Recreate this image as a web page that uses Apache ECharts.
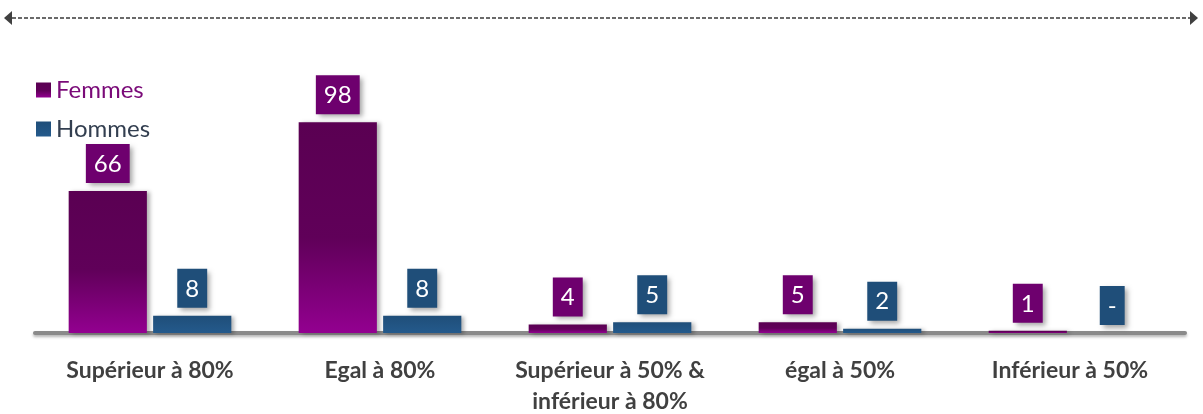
<!DOCTYPE html>
<html>
<head>
<meta charset="utf-8">
<script src="https://cdn.jsdelivr.net/npm/echarts@6/dist/echarts.min.js"></script>
<style>
  html, body { margin: 0; padding: 0; background: #ffffff; }
  #main { width: 1203px; height: 414px; }
</style>
</head>
<body>
<div id="main"></div>
<script>
// categories and values
const categories = ['Supérieur à 80%', 'Egal à 80%', 'Supérieur à 50% &\ninférieur à 80%', 'égal à 50%', 'Inférieur à 50%'];
const femmes = [66, 98, 4, 5, 1];
const hommes = [8, 8, 5, 2, 0];

const purple = '#6e006e';
const blue = '#1f4e79';

function boxLabel(bg) {
  return {
    show: true,
    position: 'top',
    distance: 8,
    formatter: p => (p.value === 0 ? '-' : p.value),
    fontFamily: 'Lato',
    fontSize: 24,
    color: '#ffffff',
    backgroundColor: bg,
    padding: [8, 8, 7, 8],
    shadowColor: 'rgba(0,0,0,0.35)',
    shadowBlur: 5,
    shadowOffsetX: 3,
    shadowOffsetY: 3
  };
}

var myChart = echarts.init(document.getElementById('main'));

var option = {
  animation: false,
  grid: { left: 35, right: 18, top: 118, bottom: 81, outerBoundsMode: 'none' },
  legend: {
    orient: 'vertical',
    left: 31,
    top: 73,
    icon: 'rect',
    itemWidth: 15,
    itemHeight: 15,
    itemGap: 15,
    textStyle: { fontFamily: 'Lato', fontSize: 24 },
    data: [
      { name: 'Femmes', textStyle: { color: '#7a0a78' } },
      { name: 'Hommes', textStyle: { color: '#333f50' } }
    ]
  },
  xAxis: {
    type: 'category',
    data: categories,
    axisTick: { show: false },
    axisLine: {
      lineStyle: {
        color: '#8a8a8a',
        width: 4,
        cap: 'round',
        shadowColor: 'rgba(0,0,0,0.3)',
        shadowBlur: 3,
        shadowOffsetY: 2
      }
    },
    axisLabel: {
      margin: 22,
      fontFamily: 'Lato',
      fontWeight: 'bold',
      fontSize: 23,
      lineHeight: 31,
      color: '#404040',
      interval: 0
    }
  },
  yAxis: {
    type: 'value',
    min: 0,
    max: 100,
    show: false
  },
  series: [
    {
      name: 'Femmes',
      type: 'bar',
      data: femmes,
      barWidth: '34%',
      barGap: '8%',
      itemStyle: {
        color: new echarts.graphic.LinearGradient(0, 0, 0, 1, [
          { offset: 0, color: '#5a0052' },
          { offset: 0.55, color: '#600059' },
          { offset: 1, color: '#930090' }
        ]),
        shadowColor: 'rgba(0,0,0,0.3)',
        shadowBlur: 4,
        shadowOffsetX: 3,
        shadowOffsetY: 1
      },
      label: boxLabel(purple)
    },
    {
      name: 'Hommes',
      type: 'bar',
      data: hommes,
      barWidth: '34%',
      itemStyle: {
        color: new echarts.graphic.LinearGradient(0, 0, 0, 1, [
          { offset: 0, color: '#1f4e79' },
          { offset: 1, color: '#245a8c' }
        ]),
        shadowColor: 'rgba(0,0,0,0.3)',
        shadowBlur: 4,
        shadowOffsetX: 3,
        shadowOffsetY: 1
      },
      label: boxLabel(blue)
    }
  ],
  // dashed double arrow across the top
  graphic: [
    {
      type: 'line',
      shape: { x1: 12, y1: 18, x2: 1190, y2: 18 },
      style: { stroke: '#6a6a6a', lineWidth: 2, lineDash: [4, 2] }
    },
    {
      type: 'polygon',
      shape: { points: [[4, 18], [12, 11], [12, 25]] },
      style: { fill: '#404040' }
    },
    {
      type: 'polygon',
      shape: { points: [[1198, 18], [1190, 11], [1190, 25]] },
      style: { fill: '#404040' }
    }
  ]
};

myChart.setOption(option);
</script>
</body>
</html>
